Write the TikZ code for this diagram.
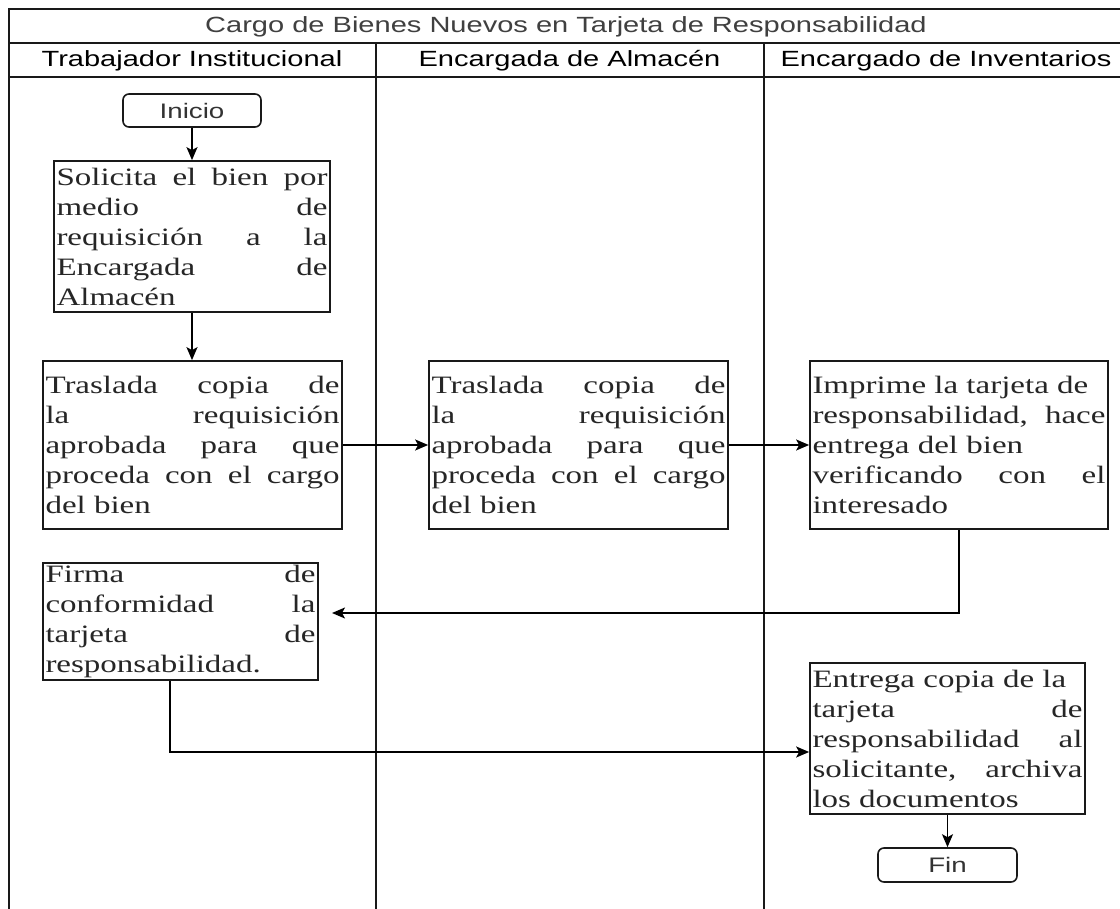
\documentclass[tikz,border=0pt]{standalone}
\usepackage{fontspec}
\setmainfont{Liberation Serif}
\newfontfamily\sansf[FakeStretch=1.32]{Liberation Sans}
\newfontfamily\seriff[FakeStretch=1.32]{Liberation Serif}
\usetikzlibrary{arrows.meta}
\hbadness=10000
\hfuzz=6pt
\begin{document}
\begin{tikzpicture}[x=1pt,y=-1pt,
  lane/.style={draw=black!90, line width=2pt},
  titletxt/.style={font=\sansf\fontsize{22}{26}\selectfont, text=black!75, inner sep=0pt},
  headtxt/.style={font=\sansf\fontsize{22}{26}\selectfont, text=black, inner sep=0pt},
  proc/.style={draw=black!90, line width=1.7pt, fill=white, inner xsep=2pt, inner ysep=0pt,
    font={\seriff\fontsize{25}{30}\selectfont\tolerance=10000\pretolerance=-1}, text=black!85, align=justify},
  term/.style={draw=black!90, line width=1.6pt, rounded corners=6pt, fill=white,
    font=\sansf\fontsize{21}{25}\selectfont, text=black!80, inner sep=0pt},
  arr/.style={draw=black, line width=1.7pt, -{Stealth[length=13pt,width=11pt,inset=3pt]}},
]
\fill[white] (0,0) rectangle (1120,909);
\useasboundingbox (0,0) rectangle (1120,909);
\clip (0,0) rectangle (1120,909);

% pool and lanes
\draw[lane] (9,940) -- (9,9) -- (1126,9) -- (1126,940);
\draw[lane] (9,43.5) -- (1126,43.5);
\draw[lane] (9,77) -- (1126,77);
\draw[lane] (375.5,43.5) -- (375.5,940);
\draw[lane] (764,43.5) -- (764,940);

\node[titletxt] (title) at (566,27) {Cargo de Bienes Nuevos en Tarjeta de Responsabilidad};
\node[headtxt] (h1) at (192,60.5) {Trabajador Institucional};
\node[headtxt] (h2) at (569.5,60.5) {Encargada de Almacén};
\node[headtxt] (h3) at (946,60.5) {Encargado de Inventarios};

% nodes
\node[term, minimum width=138pt, minimum height=33pt] (ini) at (192,110.5) {Inicio};

\node[proc, minimum width=276pt, minimum height=151pt, text width=271pt] (sol) at (192,236.5)
  {Solicita el bien por\linebreak medio de\linebreak requisición a la\linebreak Encargada de\linebreak Almacén};

\node[proc, minimum width=299pt, minimum height=168pt, text width=294pt] (tr1) at (192.5,445)
  {Traslada copia de\linebreak la requisición\linebreak aprobada para que\linebreak proceda con el cargo\linebreak del bien};

\node[proc, minimum width=299pt, minimum height=168pt, text width=294pt] (tr2) at (578.5,445)
  {Traslada copia de\linebreak la requisición\linebreak aprobada para que\linebreak proceda con el cargo\linebreak del bien};

\node[proc, minimum width=298pt, minimum height=168pt, text width=293pt] (imp) at (959,445)
  {Imprime la tarjeta de\newline responsabilidad, hace\linebreak entrega del bien\newline verificando con el\linebreak interesado};

\node[proc, minimum width=275pt, minimum height=117pt, text width=270pt] (fir) at (180.5,621.5)
  {Firma de\linebreak conformidad la\linebreak tarjeta de\linebreak responsabilidad.};

\node[proc, minimum width=275pt, minimum height=151pt, text width=270pt] (ent) at (947.5,738.5)
  {Entrega copia de la\newline tarjeta de\linebreak responsabilidad al\linebreak solicitante, archiva\linebreak los documentos};

\node[term, minimum width=139pt, minimum height=34pt] (fin) at (947.5,865) {Fin};

% connectors
\coordinate (fa) at (332,613);
\draw[arr] (ini) -- (sol);
\draw[arr] (sol.south) -- (sol.south |- tr1.north);
\draw[arr] (tr1) -- (tr2);
\draw[arr] (tr2) -- (imp);
\draw[arr] (imp.south) |- (fa);
\draw[arr] ([xshift=-10.5pt]fir.south) |- ([yshift=-13.5pt]ent.west);
\draw[arr] (ent) -- (fin);
\end{tikzpicture}
\end{document}
